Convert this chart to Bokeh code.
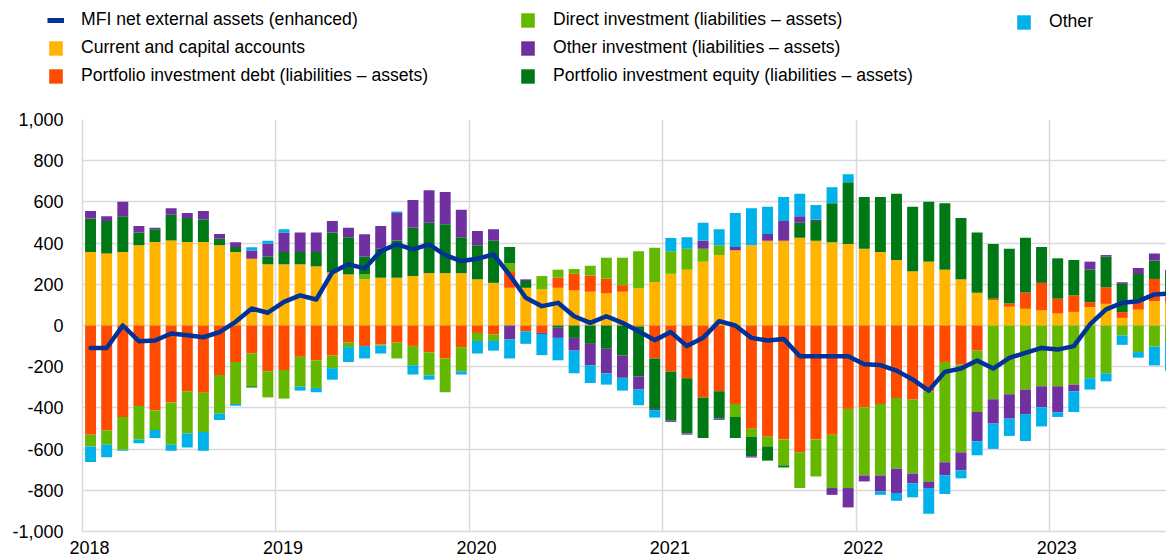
from bokeh.plotting import figure
from bokeh.layouts import column, row
from bokeh.models import ColumnDataSource, Range1d, FixedTicker, NumeralTickFormatter, Legend, LegendItem
from bokeh.embed import file_html
from bokeh.resources import INLINE
import numpy as np

# ---- data (EUR billions, 12-month sums), monthly 2018-01 .. 2023-08 ----
start_year = 2018
n_months = 68
year_labels = ["2018", "2019", "2020", "2021", "2022", "2023"]

mfi = [-109, -109, 0, -76, -73, -39, -47, -57, -32, 18, 82, 62,
       115, 146, 126, 259, 297, 277, 361, 394, 370, 394, 342, 313,
       324, 345, 245, 135, 94, 110, 45, 13, 45, 13, -28, -71,
       -32, -100, -60, 21, 0, -60, -73, -65, -149, -149, -149, -149,
       -188, -192, -219, -262, -316, -225, -209, -170, -209, -157, -133, -109,
       -117, -100, 5, 78, 110, 118, 151, 155]
current = [357, 350, 357, 389, 405, 413, 405, 405, 389, 357, 324, 297,
           297, 297, 287, 258, 248, 224, 232, 232, 240, 254, 254, 254,
           224, 207, 183, 183, 175, 183, 170, 164, 156, 164, 180, 211,
           251, 271, 310, 342, 365, 389, 412, 412, 426, 412, 404, 396,
           373, 357, 318, 263, 310, 271, 224, 159, 123, 91, 81, 73,
           58, 66, 89, 105, 37, 77, 118, 110]
pid = [-530, -509, -444, -391, -413, -374, -319, -327, -240, -177, -136, -222,
       -216, -152, -169, -146, -83, -100, -92, -83, -99, -130, -160, -105,
       -36, -44, 81, -28, -36, 49, 81, 79, 71, 32, -5, -160,
       -224, -256, -350, -319, -381, -501, -540, -554, -616, -554, -530, -405,
       -397, -381, -352, -360, -319, -177, -190, -122, 7, 16, 79, 134,
       72, 80, 24, 80, 28, 36, 108, 40]
di = [-57, -70, -159, -163, -94, -205, -205, -190, -188, -204, -159, -127,
      -139, -145, -134, -61, -22, 24, -6, -77, -94, -112, -164, -117,
      -39, -31, 38, 0, 65, 39, 23, 47, 102, 133, 180, 167,
      109, 102, 63, 47, -63, -39, -47, -125, -173, -179, -259, -384,
      -331, -347, -343, -359, -439, -487, -426, -298, -358, -334, -311, -295,
      -295, -287, -256, -232, -48, -129, -102, -80]
pie = [163, 157, 173, 63, 62, 125, 117, 110, 32, 24, -6, 37,
       60, 60, 70, 193, 180, 86, 141, 181, 235, 245, 237, 174,
       165, 205, 79, 33, 0, -11, -60, -89, -113, -146, -243, -245,
       -238, -268, -196, -133, -102, -95, -69, -10, 73, 95, 189, 299,
       251, 267, 322, 314, 291, 322, 298, 292, 266, 266, 266, 174,
       196, 172, 158, 149, 137, 137, 89, 100]
oi = [36, 23, 71, 31, 8, 31, 24, 41, 23, 23, 40, 63,
      94, 94, 94, 56, 47, 109, 110, 133, 134, 158, 157, 134,
      70, 55, -68, 8, -5, -49, -62, -104, -119, -108, -63, -6,
      -6, -6, 39, -6, 16, -6, 32, 95, 31, 7, -33, -94,
      -29, -78, -118, -47, -31, -63, -87, -142, -118, -118, -119, -102,
      -126, -32, 39, 8, 8, 29, 35, 20]
other = [-76, -61, -5, -17, -39, -29, -68, -91, -31, -8, 16, 15,
         16, -19, -21, -56, -72, -60, -38, 8, -45, -21, 0, -16,
         -61, -47, -92, -61, -103, -109, -110, -86, -55, -62, -76, -36,
         65, 55, 87, 78, 165, 180, 133, 117, 110, 71, 78, 39,
         0, -16, -38, -68, -125, -91, -39, -68, -123, -84, -131, -93,
         -23, -101, -55, -39, -46, -27, -92, -140]

names = ["Current and capital accounts",
         "Portfolio investment debt (liabilities \u2013 assets)",
         "Direct investment (liabilities \u2013 assets)",
         "Portfolio investment equity (liabilities \u2013 assets)",
         "Other investment (liabilities \u2013 assets)",
         "Other"]
mfi_name = "MFI net external assets (enhanced)"
colors = ["#FFB400", "#FF4B00", "#65B800", "#007816", "#7030A0", "#00B1EA"]
line_color = "#003299"
series_values = [current, pid, di, pie, oi, other]

FONT = "Liberation Sans"
W = 1166
TOP_H = 100
MAIN_H = 460

# ---------------- main chart ----------------
p = figure(width=W, height=MAIN_H,
           x_range=Range1d(0, 67.25), y_range=Range1d(-1000, 1000),
           output_backend="svg", toolbar_location=None,
           min_border_left=82, min_border_right=0,
           min_border_top=19, min_border_bottom=29)
p.outline_line_color = None

x = np.arange(n_months) + 0.5
pos = np.zeros(n_months)
neg = np.zeros(n_months)
for name, vals, col in zip(names, series_values, colors):
    v = np.array(vals, dtype=float)
    bottom = np.where(v >= 0, pos, neg + v)
    top = np.where(v >= 0, pos + v, neg)
    pos = pos + np.clip(v, 0, None)
    neg = neg + np.clip(v, None, 0)
    src = ColumnDataSource(dict(x=x, bottom=bottom, top=top))
    p.vbar(x="x", bottom="bottom", top="top", width=0.68, source=src,
           fill_color=col, line_color=None)

line_src = ColumnDataSource(dict(x=x, y=np.array(mfi, dtype=float)))
p.line("x", "y", source=line_src, line_color=line_color,
       line_width=4.5, line_join="round", line_cap="round")

year_starts = [12 * i for i in range(len(year_labels))]
label_pos = [round(t + 0.44, 2) for t in year_starts]
p.xaxis.ticker = FixedTicker(ticks=label_pos)
p.xaxis.major_label_overrides = {lp: lab for lp, lab in zip(label_pos, year_labels)}
p.xgrid.ticker = FixedTicker(ticks=year_starts)

p.yaxis.ticker = FixedTicker(ticks=list(range(-1000, 1001, 200)))
p.yaxis.formatter = NumeralTickFormatter(format="0,0")

for ax in (p.xaxis[0], p.yaxis[0]):
    ax.major_tick_line_color = None
    ax.minor_tick_line_color = None
    ax.major_tick_out = 0
    ax.major_tick_in = 0
    ax.minor_tick_out = 0
    ax.minor_tick_in = 0
    ax.axis_line_color = "#d9d9d9"
    ax.axis_line_width = 1.5
    ax.major_label_text_font = FONT
    ax.major_label_text_font_size = "18px"
    ax.major_label_text_color = "#000000"
p.yaxis.major_label_standoff = 19
p.xaxis.major_label_standoff = 9

for g in (p.xgrid[0], p.ygrid[0]):
    g.grid_line_color = "#d9d9d9"
    g.grid_line_width = 1.5

# ---------------- legend strip ----------------
lg_fig = figure(width=W, height=TOP_H, x_range=Range1d(0, 1), y_range=Range1d(0, 1),
                output_backend="svg", toolbar_location=None,
                min_border_left=0, min_border_right=0, min_border_top=0, min_border_bottom=0,
                x_axis_type=None, y_axis_type=None)
lg_fig.outline_line_color = None
lg_fig.grid.visible = False

# legend proxies (no visible data of their own)
nan = float("nan")
proxy = {}
for name, col in zip(names, colors):
    proxy[name] = lg_fig.vbar(x=[nan], top=[nan], width=0.5, fill_color=col, line_color=None)
proxy[mfi_name] = lg_fig.line(x=[nan, nan], y=[nan, nan], line_color=line_color, line_width=5)

def add_legend(labels, lx, ly):
    items = [LegendItem(label=l, renderers=[proxy[l]]) for l in labels]
    lg = Legend(items=items, location=(lx, ly), orientation="vertical",
                margin=0, padding=0, spacing=7,
                glyph_width=17, glyph_height=18, label_standoff=17,
                label_height=20, label_text_font=FONT, label_text_font_size="17.6px",
                label_text_color="#000000", label_text_baseline="middle",
                border_line_color=None, background_fill_alpha=0)
    lg_fig.add_layout(lg)

add_legend([mfi_name, names[0], names[1]], 47, 14)
add_legend([names[2], names[4], names[3]], 519, 14)
add_legend([names[5]], 1015, 68)

layout = column(row(lg_fig), p, spacing=0)
open("out.html", "w").write(file_html(layout, INLINE))
